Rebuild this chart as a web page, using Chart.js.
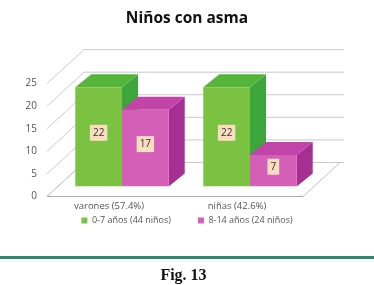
<!DOCTYPE html>
<html>
<head>
<meta charset="utf-8">
<script src="https://cdn.jsdelivr.net/npm/chart.js@4.4.1/dist/chart.umd.min.js"></script>
<style>
  body { margin: 0; background: #fff; }
  #wrap { position: relative; width: 374px; height: 285px; }
  #rule { position: absolute; left: 0; top: 256px; width: 374px; height: 2.5px; background: #2b8a72; }
  #fig { position: absolute; left: 0; top: 266.5px; width: 367px; text-align: center;
         font: bold 16px/16px "Liberation Serif", serif; color: #111; }
</style>
</head>
<body>
<div id="wrap">
  <canvas id="chart" width="374" height="285"></canvas>
  <div id="rule"></div>
  <div id="fig">Fig. 13</div>
</div>
<script>
// data
const categories = ['varones (57.4%)', 'niñas (42.6%)'];
const seriesNames = ['0-7 años (44 niños)', '8-14 años (24 niños)'];
const youngValues = [22, 22];
const olderValues = [17, 7];
const yTicks = [0, 5, 10, 15, 20, 25];

// fake 3d: offsets of front plane, back wall and bar depth, relative to the bar plane
const depth = { fx: -11, fy: 10, bx: 26, by: -24, dx: 16, dy: -13 };
const faces = [
    { top: '#55b53a', side: '#3ca53b' },
    { top: '#c244a8', side: '#a43094' }
];

const threeD = {
    id: 'threeD',
    beforeDatasetsDraw(chart) {
        const ctx = chart.ctx;
        const { left, right, bottom } = chart.chartArea;
        const y = chart.scales.y;
        ctx.save();

        // floor
        ctx.beginPath();
        ctx.moveTo(left + depth.fx, bottom + depth.fy);
        ctx.lineTo(right + depth.fx, bottom + depth.fy);
        ctx.lineTo(right + depth.bx, bottom + depth.by);
        ctx.lineTo(left + depth.bx, bottom + depth.by);
        ctx.closePath();
        ctx.fillStyle = '#fff';
        ctx.fill();
        ctx.strokeStyle = '#bdbdbd';
        ctx.lineWidth = 1;
        ctx.stroke();

        // left wall and back wall grid lines
        ctx.strokeStyle = '#c9c9c9';
        y.ticks.forEach(t => {
            const yy = y.getPixelForValue(t.value);
            ctx.beginPath();
            ctx.moveTo(left + depth.fx, yy + depth.fy);
            ctx.lineTo(left + depth.bx, yy + depth.by);
            ctx.lineTo(right + depth.bx + 4, yy + depth.by);
            ctx.stroke();
        });

        // front edge of the floor, a bit darker
        ctx.strokeStyle = '#aaa';
        ctx.beginPath();
        ctx.moveTo(left + depth.fx, bottom + depth.fy);
        ctx.lineTo(right + depth.fx, bottom + depth.fy);
        ctx.stroke();

        // side and top faces, left to right
        categories.forEach((c, i) => {
            chart.data.datasets.forEach((ds, d) => {
                const bar = chart.getDatasetMeta(d).data[i];
                const l = bar.x - bar.width / 2;
                const r = bar.x + bar.width / 2;
                const t = bar.y;
                const b = bar.base;

                ctx.fillStyle = faces[d].side;
                ctx.beginPath();
                ctx.moveTo(r, t);
                ctx.lineTo(r + depth.dx, t + depth.dy);
                ctx.lineTo(r + depth.dx, b + depth.dy);
                ctx.lineTo(r, b);
                ctx.closePath();
                ctx.fill();

                ctx.fillStyle = faces[d].top;
                ctx.beginPath();
                ctx.moveTo(l, t);
                ctx.lineTo(l + depth.dx, t + depth.dy);
                ctx.lineTo(r + depth.dx, t + depth.dy);
                ctx.lineTo(r, t);
                ctx.closePath();
                ctx.fill();
            });
        });
        ctx.restore();
    },
    afterDatasetsDraw(chart) {
        const ctx = chart.ctx;
        ctx.save();
        ctx.font = '10px "Open Sans"';
        ctx.textAlign = 'center';
        ctx.textBaseline = 'middle';
        chart.data.datasets.forEach((ds, d) => {
            chart.getDatasetMeta(d).data.forEach((bar, i) => {
                const text = String(ds.data[i]);
                const w = ctx.measureText(text).width + 6;
                const h = 16;
                const cx = bar.x;
                const cy = (bar.y + bar.base) / 2 - 4;
                ctx.fillStyle = '#f7dec2';
                ctx.fillRect(cx - w / 2, cy - h / 2, w, h);
                ctx.fillStyle = '#3b2b22';
                ctx.fillText(text, cx, cy + 0.5);
            });
        });
        ctx.restore();
    }
};

new Chart(document.getElementById('chart'), {
    type: 'bar',
    data: {
        labels: categories,
        datasets: [
            { label: seriesNames[0], data: youngValues, backgroundColor: '#7cc242' },
            { label: seriesNames[1], data: olderValues, backgroundColor: '#d35fb7' }
        ]
    },
    options: {
        responsive: false,
        animation: false,
        devicePixelRatio: 1,
        categoryPercentage: 0.73,
        barPercentage: 1,
        layout: { padding: { left: 0, right: 0, top: 0, bottom: 50 } },
        plugins: {
            title: {
                display: true,
                text: 'Niños con asma',
                color: '#111',
                font: { family: '"Open Sans"', size: 15.5, weight: 'bold' },
                padding: { top: 9, bottom: 46 }
            },
            legend: {
                position: 'bottom',
                labels: {
                    color: '#555',
                    font: { family: '"Open Sans"', size: 9 },
                    boxWidth: 6,
                    boxHeight: 6,
                    padding: 27
                }
            },
            tooltip: { enabled: false }
        },
        scales: {
            x: {
                grid: { display: false, drawTicks: false },
                border: { display: false },
                ticks: {
                    color: '#555',
                    font: { family: '"Open Sans"', size: 9.5 },
                    // mirror keeps the labels from being clipped to the (thin) axis box
                    mirror: true,
                    padding: -25,
                    labelOffset: -13,
                    maxRotation: 0,
                    autoSkip: false
                },
                afterFit(s) { s.height = 2.5; }
            },
            y: {
                min: yTicks[0],
                max: yTicks[yTicks.length - 1],
                grid: { display: false, drawTicks: false },
                border: { display: false },
                ticks: {
                    stepSize: yTicks[1] - yTicks[0],
                    color: '#555',
                    font: { family: '"Open Sans"', size: 10 },
                    padding: 21,
                    labelOffset: 10
                },
                afterFit(s) { s.width = 58; }
            },
            y1: {
                position: 'right',
                grid: { display: false, drawTicks: false },
                border: { display: false },
                ticks: { display: false },
                afterFit(s) { s.width = 60; }
            }
        }
    },
    plugins: [threeD]
});
</script>
</body>
</html>
